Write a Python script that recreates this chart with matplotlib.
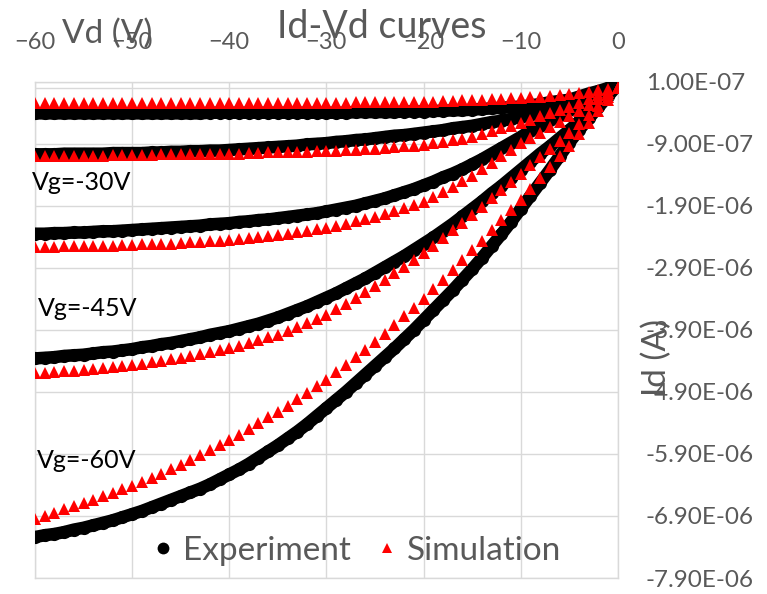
import matplotlib
matplotlib.use('Agg')
import matplotlib.pyplot as plt
from matplotlib.lines import Line2D
from matplotlib.ticker import FuncFormatter

plt.rcParams['font.family'] = ['Lato', 'DejaVu Sans']

# drain voltage, 1 V steps from -60 to 0
vd = list(range(-60, 1))

# currents in uA (one value per volt, -60 ... 0)
exp_vg15 = [-0.41, -0.41, -0.41, -0.41, -0.41, -0.41, -0.41, -0.41, -0.41, -0.41,
            -0.41, -0.41, -0.41, -0.41, -0.41, -0.41, -0.41, -0.41, -0.40, -0.40,
            -0.40, -0.40, -0.40, -0.40, -0.40, -0.40, -0.40, -0.40, -0.40, -0.40,
            -0.40, -0.40, -0.40, -0.39, -0.39, -0.39, -0.39, -0.39, -0.38, -0.38,
            -0.38, -0.37, -0.37, -0.36, -0.36, -0.35, -0.34, -0.33, -0.32, -0.31,
            -0.30, -0.28, -0.26, -0.23, -0.21, -0.19, -0.14, -0.09, -0.05, 0.00, 0.05]
sim_vg15 = [-0.24] * 30 + [
            -0.24, -0.24, -0.24, -0.23, -0.23, -0.23, -0.23, -0.23, -0.22, -0.22,
            -0.22, -0.22, -0.21, -0.21, -0.20, -0.20, -0.19, -0.18, -0.18, -0.17,
            -0.16, -0.15, -0.14, -0.13, -0.11, -0.10, -0.08, -0.06, -0.04, -0.02, 0.00]
exp_vg20 = [-1.07, -1.07, -1.07, -1.06, -1.06, -1.06, -1.06, -1.06, -1.05, -1.05,
            -1.05, -1.05, -1.04, -1.04, -1.03, -1.03, -1.02, -1.02, -1.01, -1.01,
            -1.00, -0.99, -0.98, -0.97, -0.96, -0.95, -0.94, -0.93, -0.91, -0.90,
            -0.89, -0.87, -0.86, -0.84, -0.83, -0.81, -0.79, -0.77, -0.76, -0.74,
            -0.72, -0.70, -0.68, -0.65, -0.63, -0.61, -0.58, -0.55, -0.53, -0.50,
            -0.47, -0.43, -0.39, -0.36, -0.32, -0.28, -0.21, -0.15, -0.08, -0.02, 0.05]
sim_vg20 = [-1.09, -1.09, -1.09, -1.09, -1.09, -1.09, -1.09, -1.09, -1.08, -1.08,
            -1.08, -1.08, -1.08, -1.07, -1.07, -1.07, -1.07, -1.07, -1.06, -1.06,
            -1.06, -1.06, -1.05, -1.05, -1.04, -1.04, -1.04, -1.03, -1.03, -1.02,
            -1.02, -1.01, -1.00, -1.00, -0.99, -0.98, -0.97, -0.96, -0.94, -0.93,
            -0.92, -0.89, -0.87, -0.84, -0.82, -0.79, -0.74, -0.70, -0.65, -0.61,
            -0.56, -0.51, -0.46, -0.40, -0.35, -0.30, -0.24, -0.18, -0.12, -0.06, 0.00]
exp_vg30 = [-2.35, -2.35, -2.34, -2.34, -2.33, -2.33, -2.32, -2.31, -2.31, -2.30,
            -2.29, -2.28, -2.27, -2.26, -2.25, -2.24, -2.23, -2.22, -2.20, -2.19,
            -2.18, -2.16, -2.15, -2.13, -2.12, -2.10, -2.08, -2.06, -2.04, -2.02,
            -1.99, -1.96, -1.93, -1.90, -1.86, -1.82, -1.78, -1.73, -1.68, -1.63,
            -1.57, -1.51, -1.44, -1.38, -1.31, -1.23, -1.15, -1.06, -0.97, -0.88,
            -0.79, -0.69, -0.61, -0.52, -0.44, -0.36, -0.28, -0.20, -0.11, -0.03, 0.05]
sim_vg30 = [-2.56, -2.56, -2.56, -2.55, -2.55, -2.55, -2.55, -2.54, -2.54, -2.53,
            -2.53, -2.52, -2.52, -2.51, -2.51, -2.50, -2.49, -2.48, -2.47, -2.46,
            -2.45, -2.43, -2.42, -2.40, -2.39, -2.37, -2.35, -2.33, -2.30, -2.28,
            -2.26, -2.22, -2.19, -2.15, -2.12, -2.08, -2.03, -1.98, -1.94, -1.89,
            -1.84, -1.76, -1.67, -1.59, -1.50, -1.42, -1.31, -1.21, -1.10, -1.00,
            -0.89, -0.80, -0.72, -0.63, -0.55, -0.46, -0.37, -0.28, -0.18, -0.09, 0.00]
exp_vg45 = [-4.36, -4.35, -4.34, -4.32, -4.31, -4.30, -4.28, -4.26, -4.25, -4.23,
            -4.21, -4.18, -4.16, -4.13, -4.11, -4.08, -4.05, -4.02, -3.98, -3.95,
            -3.92, -3.88, -3.84, -3.80, -3.75, -3.70, -3.64, -3.58, -3.52, -3.45,
            -3.38, -3.31, -3.23, -3.15, -3.07, -2.98, -2.89, -2.80, -2.71, -2.61,
            -2.51, -2.41, -2.30, -2.19, -2.07, -1.95, -1.83, -1.70, -1.58, -1.45,
            -1.32, -1.19, -1.06, -0.94, -0.81, -0.68, -0.54, -0.40, -0.25, -0.10, 0.05]
sim_vg45 = [-4.60, -4.59, -4.58, -4.57, -4.56, -4.55, -4.53, -4.52, -4.50, -4.49,
            -4.47, -4.45, -4.42, -4.40, -4.37, -4.35, -4.32, -4.29, -4.26, -4.23,
            -4.20, -4.16, -4.11, -4.07, -4.02, -3.98, -3.92, -3.85, -3.79, -3.72,
            -3.66, -3.57, -3.48, -3.38, -3.29, -3.20, -3.09, -2.98, -2.88, -2.77,
            -2.66, -2.54, -2.42, -2.29, -2.17, -2.05, -1.92, -1.78, -1.65, -1.51,
            -1.38, -1.25, -1.12, -0.99, -0.86, -0.73, -0.58, -0.44, -0.29, -0.15, 0.00]
exp_vg60 = [-7.24, -7.21, -7.19, -7.16, -7.12, -7.09, -7.05, -7.01, -6.97, -6.92,
            -6.87, -6.82, -6.76, -6.70, -6.64, -6.58, -6.52, -6.46, -6.39, -6.31,
            -6.23, -6.15, -6.06, -5.96, -5.86, -5.76, -5.65, -5.54, -5.42, -5.29,
            -5.16, -5.03, -4.90, -4.76, -4.62, -4.48, -4.34, -4.20, -4.05, -3.90,
            -3.74, -3.58, -3.42, -3.26, -3.09, -2.92, -2.74, -2.55, -2.36, -2.16,
            -1.95, -1.74, -1.53, -1.32, -1.10, -0.88, -0.68, -0.49, -0.31, -0.13, 0.05]
sim_vg60 = [-6.95, -6.90, -6.85, -6.79, -6.74, -6.69, -6.64, -6.58, -6.53, -6.47,
            -6.42, -6.35, -6.28, -6.22, -6.15, -6.08, -6.00, -5.92, -5.84, -5.76,
            -5.68, -5.59, -5.50, -5.40, -5.31, -5.22, -5.12, -5.01, -4.91, -4.80,
            -4.70, -4.58, -4.46, -4.34, -4.22, -4.10, -3.96, -3.82, -3.68, -3.54,
            -3.40, -3.24, -3.09, -2.93, -2.78, -2.62, -2.46, -2.29, -2.13, -1.96,
            -1.80, -1.63, -1.45, -1.28, -1.10, -0.93, -0.74, -0.56, -0.37, -0.19, 0.00]

experiment = [exp_vg15, exp_vg20, exp_vg30, exp_vg45, exp_vg60]
simulation = [sim_vg15, sim_vg20, sim_vg30, sim_vg45, sim_vg60]

# curve labels: (text, vd, id in A)
labels = [('Vg=-30V', -60.3, -1.53e-6),
          ('Vg=-45V', -59.7, -3.55e-6),
          ('Vg=-60V', -59.8, -6.00e-6)]

y_ticks = [-7.9e-6 + k * 1e-6 for k in range(9)]
x_ticks = [-60, -50, -40, -30, -20, -10, 0]

gray = '#595959'
grid_col = '#d9d9d9'

fig = plt.figure(figsize=(7.67, 5.94), dpi=100)
ax = fig.add_axes([0.0456, 0.0269, 0.760, 0.8355])

# experiment points are so dense in the original that they merge into a band
for ys in experiment:
    ax.plot(vd, [v * 1e-6 for v in ys], linestyle='-', linewidth=9.0,
            solid_capstyle='round', solid_joinstyle='round', marker='o',
            markersize=9.5, color='black', markeredgewidth=0, zorder=3)
for ys in simulation:
    ax.plot(vd, [v * 1e-6 for v in ys], linestyle='none', marker='^',
            markersize=8, color='#ff0000', markeredgewidth=0, zorder=4)

for txt, x, y in labels:
    ax.text(x, y, txt, fontsize=18, color='black', ha='left', va='center', zorder=5)

ax.set_xlim(-60, 0)
ax.set_ylim(-7.9e-6, 1e-7)
ax.set_xticks(x_ticks)
ax.set_yticks(y_ticks)
ax.yaxis.set_major_formatter(FuncFormatter(lambda v, p: f'{v:.2E}'))
ax.xaxis.tick_top()
ax.yaxis.tick_right()
ax.tick_params(axis='x', length=0, pad=21, labelsize=17, labelcolor=gray)
ax.tick_params(axis='y', length=0, pad=20, labelsize=17.5, labelcolor=gray)

ax.grid(True, color=grid_col, linewidth=1.0, zorder=0)
ax.set_axisbelow(True)
for s in ax.spines.values():
    s.set_color(grid_col)
    s.set_linewidth(1.0)
ax.axhline(0, color=grid_col, linewidth=1.0, zorder=1)

fig.text(382 / 767, 1 - 38 / 594, 'Id-Vd curves', fontsize=27, color=gray,
         ha='center', va='baseline')
fig.text(62 / 767, 1 - 43 / 594, 'Vd (V)', fontsize=24, color=gray,
         ha='left', va='baseline')
fig.text(657 / 767, 1 - 357 / 594, 'Id (A)', fontsize=24, color=gray,
         ha='center', va='center', rotation=90)

handles = [Line2D([], [], linestyle='none', marker='o', markersize=8.5,
                  color='black', markeredgewidth=0),
           Line2D([], [], linestyle='none', marker='^', markersize=7.5,
                  color='#ff0000', markeredgewidth=0)]
leg = ax.legend(handles, ['Experiment', 'Simulation'], loc='center',
                bbox_to_anchor=(357 / 767, 1 - 551 / 594),
                bbox_transform=fig.transFigure, ncol=2, frameon=False,
                fontsize=24, handlelength=0.6, handletextpad=0.3,
                columnspacing=0.8, borderpad=0)
for t in leg.get_texts():
    t.set_color(gray)

fig.savefig('out.png', dpi=100)
